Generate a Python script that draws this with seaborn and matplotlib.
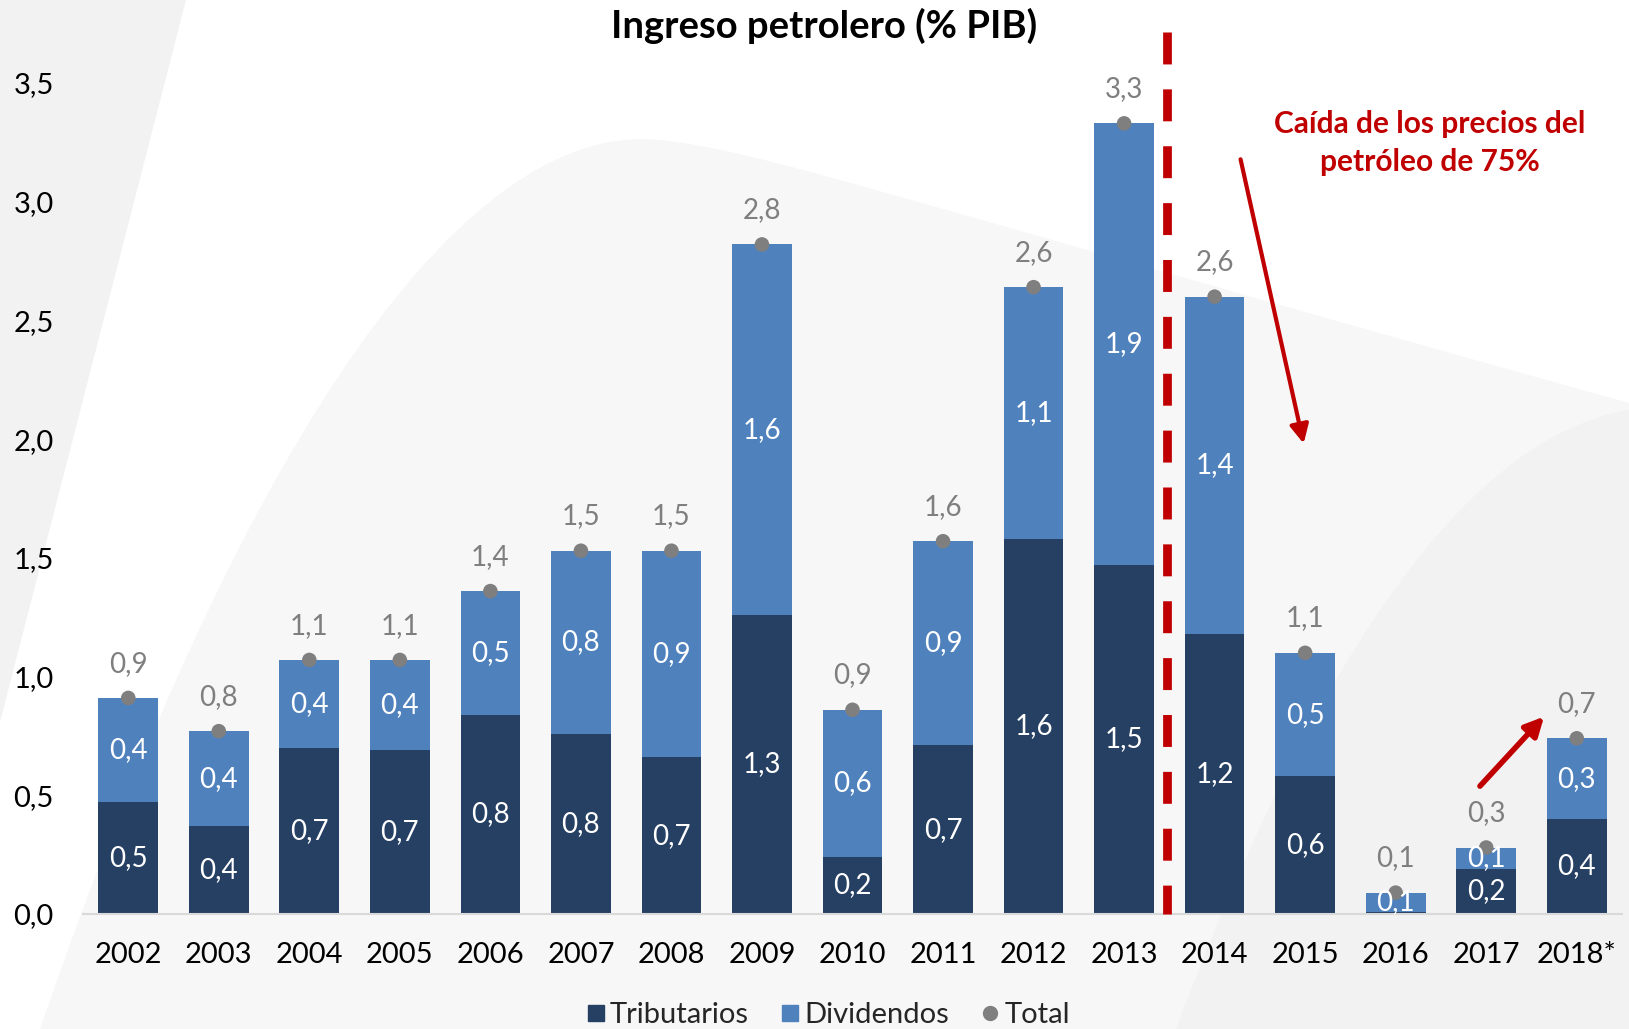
import numpy as np
import pandas as pd
import seaborn as sns
import matplotlib.pyplot as plt
from matplotlib.path import Path
from matplotlib.patches import PathPatch
from matplotlib.lines import Line2D

# Data (% del PIB)
years = ['2002', '2003', '2004', '2005', '2006', '2007', '2008', '2009', '2010',
         '2011', '2012', '2013', '2014', '2015', '2016', '2017', '2018*']
tributarios = [0.47, 0.37, 0.70, 0.69, 0.84, 0.76, 0.66, 1.26, 0.24,
               0.71, 1.58, 1.47, 1.18, 0.58, 0.01, 0.19, 0.40]
dividendos = [0.44, 0.40, 0.37, 0.38, 0.52, 0.77, 0.87, 1.56, 0.62,
              0.86, 1.06, 1.86, 1.42, 0.52, 0.08, 0.09, 0.34]
total = [0.91, 0.77, 1.07, 1.07, 1.36, 1.53, 1.53, 2.82, 0.86,
         1.57, 2.64, 3.33, 2.60, 1.10, 0.09, 0.28, 0.74]

NAVY = '#264063'
BLUE = '#4f81bd'
GREY = '#7f7f7f'
RED = '#c00000'

sns.set_theme(style='white')
plt.rcParams['font.family'] = ['Lato', 'DejaVu Sans']

W, H = 1629, 1029
fig = plt.figure(figsize=(W / 100, H / 100), dpi=100)
fig.patch.set_facecolor('white')


def fpt(x, y):
    return (x / W, 1 - y / H)


# ---- background decoration ----
strip = Path([fpt(0, 0), fpt(186, 0), fpt(0, 722), fpt(0, 0)],
             [Path.MOVETO, Path.LINETO, Path.LINETO, Path.CLOSEPOLY])
fig.add_artist(PathPatch(strip, transform=fig.transFigure, fc='#f2f2f2', ec='none', zorder=-10))

hill = Path([fpt(40, 1029), fpt(250, 420), fpt(470, 120), fpt(660, 140),
             fpt(760, 150), fpt(900, 200), fpt(1629, 403),
             fpt(1629, 1029), fpt(40, 1029)],
            [Path.MOVETO, Path.CURVE4, Path.CURVE4, Path.CURVE4,
             Path.CURVE4, Path.CURVE4, Path.CURVE4,
             Path.LINETO, Path.CLOSEPOLY])
fig.add_artist(PathPatch(hill, transform=fig.transFigure, fc='#f7f7f7', ec='none', zorder=-9))

right = Path([fpt(1629, 410), fpt(1450, 440), fpt(1300, 700), fpt(1176, 1029),
              fpt(1629, 1029), fpt(1629, 410)],
             [Path.MOVETO, Path.CURVE4, Path.CURVE4, Path.CURVE4,
              Path.LINETO, Path.CLOSEPOLY])
fig.add_artist(PathPatch(right, transform=fig.transFigure, fc='#f2f2f2', ec='none', zorder=-8))

# ---- axes ----
ax = fig.add_axes([83 / W, 1 - 914 / H, (1622 - 83) / W, (914 - 83) / H])
ax.patch.set_alpha(0)

df = pd.DataFrame({'year': years, 'trib': tributarios, 'div': dividendos, 'total': total})
df['stack'] = df['trib'] + df['div']

sns.barplot(data=df, x='year', y='stack', color=BLUE, saturation=1, width=0.66,
            linewidth=0, ax=ax)
sns.barplot(data=df, x='year', y='trib', color=NAVY, saturation=1, width=0.66,
            linewidth=0, ax=ax)
sns.scatterplot(x=np.arange(len(years)), y=df['total'], color=GREY, s=110,
                edgecolor='none', zorder=5, ax=ax)


def fmt(v):
    return f'{v:.1f}'.replace('.', ',')


for i, row in df.iterrows():
    if row['trib'] >= 0.05:
        ax.text(i, row['trib'] / 2, fmt(row['trib']), ha='center', va='center',
                color='white', fontsize=20, zorder=6)
    ax.text(i, row['trib'] + row['div'] / 2, fmt(row['div']), ha='center', va='center',
            color='white', fontsize=20, zorder=6)
    ax.annotate(fmt(row['total']), (i, row['total']), xytext=(0, 19),
                textcoords='offset points', ha='center', va='baseline',
                color=GREY, fontsize=20, zorder=6)

ax.set_xlim(-0.5, len(years) - 0.5)
ax.set_ylim(0, 3.5)
yt = np.arange(0, 3.51, 0.5)
ax.set_yticks(yt)
ax.set_yticklabels([fmt(v) for v in yt], fontsize=21, color='black')
ax.tick_params(axis='y', length=0, pad=21)
ax.tick_params(axis='x', length=0, pad=20, labelsize=21, labelcolor='black')
ax.set_xlabel('')
ax.set_ylabel('')
for s in ['top', 'right', 'left']:
    ax.spines[s].set_visible(False)
ax.spines['bottom'].set_color('#d9d9d9')
ax.spines['bottom'].set_linewidth(1.5)

# red dashed divider between 2013 and 2014
ax.plot([11.47, 11.47], [3.715, 0], color=RED, lw=6.3, dashes=(3.65, 2.85),
        solid_capstyle='butt', dash_capstyle='butt', clip_on=False, zorder=4)

# arrows
ax.annotate('', xy=(12.99, 1.97), xytext=(12.28, 3.19),
            arrowprops=dict(arrowstyle='-|>', color=RED, lw=3, mutation_scale=28))
ax.annotate('', xy=(15.66, 0.84), xytext=(14.91, 0.53),
            arrowprops=dict(arrowstyle='-|>', color=RED, lw=4, mutation_scale=28))

fig.text(1430 / W, 1 - 143 / H, 'Caída de los precios del\npetróleo de 75%', ha='center',
         va='center', color=RED, fontsize=21.5, fontweight='bold', linespacing=1.45)

fig.text(824 / W, 1 - 26 / H, 'Ingreso petrolero (% PIB)', ha='center', va='center',
         fontsize=27.5, fontweight='bold', color='black')

handles = [Line2D([], [], marker='s', ls='none', color=NAVY, markersize=12),
           Line2D([], [], marker='s', ls='none', color=BLUE, markersize=12),
           Line2D([], [], marker='o', ls='none', color=GREY, markersize=10)]
fig.legend(handles, ['Tributarios', 'Dividendos', 'Total'], loc='center',
           bbox_to_anchor=(827 / W, 1 - 1015 / H), ncol=3, frameon=False, fontsize=21,
           handletextpad=0.1, columnspacing=1.0, handlelength=0.8)

fig.savefig('out.png', dpi=100)
